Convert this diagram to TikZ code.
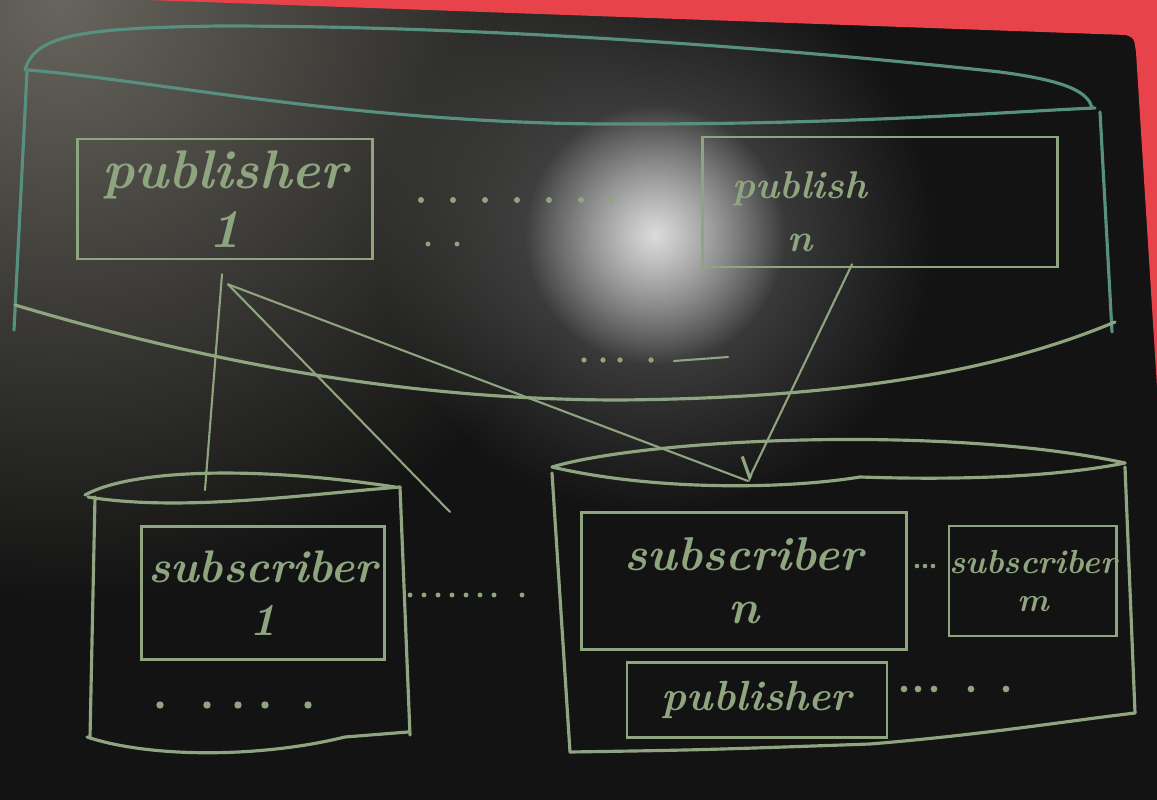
\documentclass[tikz,border=0pt]{standalone}
\usepackage{tikz}
\usetikzlibrary{arrows.meta,positioning,fadings}
\definecolor{Board}{HTML}{131313}
\definecolor{BoardGrey}{HTML}{67655D}
\definecolor{Wall}{HTML}{E8434A}
\definecolor{Chalk}{HTML}{8FA57F}
\definecolor{ChalkTeal}{HTML}{578F80}
\tikzfading[name=softspot,inner color=transparent!0,outer color=transparent!100]

\begin{document}
\begin{tikzpicture}[x=0.02cm,y=-0.02cm,
  cont/.style={line width=1.8pt,Chalk,line join=round,line cap=round},
  box/.style={rectangle,draw=Chalk,line width=1.5pt,text=Chalk,
              font=\itshape,align=center,inner sep=0pt},
  link/.style={Chalk,line width=1.2pt,line cap=round},
  arr/.style={link,-{Straight Barb[harpoon,swap,length=9pt,line width=1.8pt]}}]
\useasboundingbox (0,0) rectangle (1157,800);
\fill[Board] (0,0) rectangle (1157,800);
\fill[BoardGrey,path fading=softspot] (60,0) circle (600);
\fill[white!30!Board,path fading=softspot] (655,235) circle (280);
\fill[white!85!Board,path fading=softspot] (655,235) circle (130);
\fill[Wall] (148,0) -- (1157,0) -- (1157,387) -- (1136,52)
  .. controls (1134,38) .. (1126,35) -- cycle;

% top container
\draw[cont,ChalkTeal] (25,70) .. controls (35,35) and (80,28) .. (220,26)
  .. controls (500,26) and (800,50) .. (1000,72)
  .. controls (1060,80) and (1088,90) .. (1092,108);
\draw[cont,ChalkTeal] (28,70) .. controls (150,80) and (350,122) .. (600,124)
  .. controls (850,125) and (1000,112) .. (1095,108);
\draw[cont,ChalkTeal] (27,72) -- (14,330);
\draw[cont,ChalkTeal] (1100,112) -- (1112,332);
\draw[cont] (15,305) .. controls (200,360) and (400,400) .. (620,400)
  .. controls (850,398) and (1000,370) .. (1115,322);

% left container
\draw[cont] (85,495) .. controls (130,470) and (250,465) .. (395,487);
\draw[cont] (88,497) .. controls (180,512) and (300,495) .. (400,487);
\draw[cont] (95,497) -- (90,738);
\draw[cont] (400,487) -- (410,735);
\draw[cont] (87,737) .. controls (150,758) and (260,758) .. (345,737) -- (408,732);

% right container
\draw[cont] (552,467) .. controls (650,438) and (950,425) .. (1125,463);
\draw[cont] (552,467) .. controls (650,490) and (780,490) .. (860,477)
  .. controls (950,480) and (1050,478) .. (1125,463);
\draw[cont] (552,473) -- (570,752);
\draw[cont] (1125,467) -- (1135,713);
\draw[cont] (570,752) .. controls (700,750) .. (870,744)
  .. controls (980,735) and (1060,722) .. (1135,713);

\node[box,minimum width=5.9cm,minimum height=2.4cm,
      font=\bfseries\itshape\fontsize{31}{34}\selectfont] (pub1) at (225,199) {publisher\\1};
\node[box,minimum width=7.1cm,minimum height=2.6cm] (pubn) at (880,202) {};
\node[text=Chalk,align=center,font=\bfseries\itshape\fontsize{22}{30}\selectfont]
      (pubnlabel) at (800,212) {publish\\n};
\node[box,minimum width=4.85cm,minimum height=2.65cm,
      font=\bfseries\itshape\fontsize{26}{30}\selectfont] (sub1) at (263,593) {subscriber\\1};
\node[box,minimum width=6.5cm,minimum height=2.75cm,
      font=\bfseries\itshape\fontsize{27}{30}\selectfont] (subn) at (744,581) {subscriber\\n};
\node[box,minimum width=3.3cm,minimum height=2.2cm,right=0.8cm of subn,
      font=\bfseries\itshape\fontsize{19}{22}\selectfont] (subm) {subscriber\\m};
\node[box,minimum width=5.2cm,minimum height=1.5cm,
      font=\bfseries\itshape\fontsize{24}{28}\selectfont] (pubb) at (757,700) {publisher};

\coordinate (ltop) at (205,490);
\coordinate (lgap) at (450,512);
\coordinate (rtop) at (748,481);
\draw[link] ([shift={(-3,14)}]pub1.south) -- (ltop);
\draw[link] ([shift={(3,24)}]pub1.south) -- (lgap);
\draw[link] ([shift={(3,24)}]pub1.south) -- (rtop);
\draw[arr] ([shift={(-28,-4)}]pubn.south) -- (rtop);

% dots
\foreach \x in {421,453,485,517,549,581,612} \fill[Chalk] (\x,200) circle (1.7pt);
\foreach \x in {428,457} \fill[Chalk] (\x,244) circle (1.4pt);
\foreach \x in {584,603,620,651} \fill[Chalk] (\x,360) circle (1.5pt);
\draw[link] (674,361) -- (728,357);
\foreach \x in {160,207,238,265,308} \fill[Chalk] (\x,705) circle (2.1pt);
\foreach \x in {410,424,438,452,466,480,494,522} \fill[Chalk] (\x,595) circle (1.4pt);
\foreach \x in {917,925,933} \fill[Chalk] (\x,566) circle (1.3pt);
\foreach \x in {904,918,934,971,1006} \fill[Chalk] (\x,689) circle (1.9pt);
\end{tikzpicture}
\end{document}
